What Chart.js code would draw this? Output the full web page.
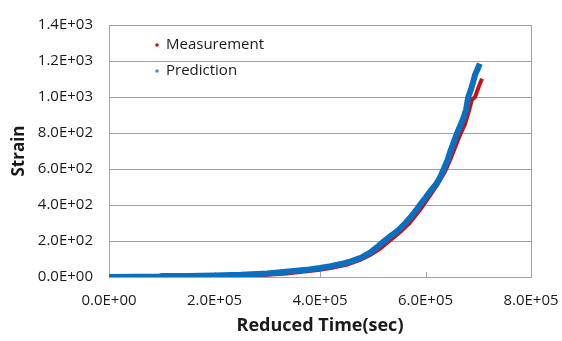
<!DOCTYPE html>
<html>
<head>
<meta charset="utf-8">
<script src="https://cdn.jsdelivr.net/npm/chart.js@4.4.0/dist/chart.umd.min.js"></script>
<style>
html,body{margin:0;padding:0;background:#fff;}
canvas{display:block;}
</style>
</head>
<body>
<canvas id="c" width="562" height="341"></canvas>
<script>
const seriesNames = ['Measurement', 'Prediction'];

const measTime = [0, 100000, 150000, 200000, 260000, 300000, 337000, 375000, 400000, 420000, 450000, 476000, 495000, 514000, 533000, 552000, 570000, 590000, 609000, 623000, 637000, 648000, 659000, 665000, 675000, 682000, 688000, 694000, 700000, 707000];
const measStrain = [0, 0, 1, 3, 6, 12, 20, 32, 40, 50, 68, 95, 122, 158, 205, 250, 300, 375, 455, 515, 585, 660, 742, 786, 850, 920, 985, 1000, 1050, 1102];

const predTime = [0, 50000, 95000, 100000, 150000, 200000, 250000, 300000, 325000, 350000, 380000, 400000, 420000, 440000, 460000, 480000, 495000, 510000, 520000, 533000, 545000, 552000, 562000, 572000, 582000, 590000, 600000, 610000, 620000, 628000, 636000, 642000, 647000, 653000, 660000, 666000, 672000, 677000, 681000, 686000, 690000, 694000, 698000, 703000];
const predStrain = [0, 1, 2, 5, 6, 8, 12, 20, 26, 33, 42, 50, 60, 72, 88, 110, 135, 170, 195, 226, 252, 270, 300, 333, 370, 403, 440, 480, 515, 555, 610, 650, 697, 745, 800, 840, 884, 930, 1000, 1040, 1080, 1124, 1150, 1186];

const xTickLabels = ['0.0E+00', '2.0E+05', '4.0E+05', '6.0E+05', '8.0E+05'];
const yTickLabels = ['0.0E+00', '2.0E+02', '4.0E+02', '6.0E+02', '8.0E+02', '1.0E+03', '1.2E+03', '1.4E+03'];

const xTitle = 'Reduced Time(sec)';
const yTitle = 'Strain';

const RED = '#c8101a';
const BLUE = '#0b6fc0';
const GRID = '#a3a3a3';
const TEXT = '#1a1a1a';
const FONT = '"Open Sans"';

function pts(xs, ys) { return xs.map((x, i) => ({x: x, y: ys[i]})); }

const frame = {
  id: 'frame',
  beforeDatasetsDraw(chart) {
    const {ctx, chartArea: a} = chart;
    const xs = chart.scales.x;
    ctx.save();
    ctx.strokeStyle = GRID;
    ctx.lineWidth = 1;
    xs.ticks.forEach(t => {
      const px = Math.round(xs.getPixelForValue(t.value)) + 0.5;
      ctx.beginPath();
      ctx.moveTo(px, a.bottom);
      ctx.lineTo(px, a.bottom - 5);
      ctx.stroke();
    });
    ctx.strokeRect(Math.round(a.left) + 0.5, Math.round(a.top) + 0.5, Math.round(a.right - a.left), Math.round(a.bottom - a.top));
    ctx.restore();
  }
};

const textPlugin = {
  id: 'texts',
  afterDraw(chart) {
    const ctx = chart.ctx;
    const a = chart.chartArea;
    const items = [
      {label: seriesNames[0], color: RED, y: 45},
      {label: seriesNames[1], color: '#4a90d0', y: 71}
    ];
    ctx.save();
    ctx.font = '15px ' + FONT;
    ctx.textBaseline = 'middle';
    items.forEach(it => {
      ctx.fillStyle = it.color;
      ctx.beginPath();
      ctx.arc(157, it.y, 1.8, 0, Math.PI * 2);
      ctx.fill();
      ctx.fillStyle = TEXT;
      ctx.textAlign = 'left';
      ctx.fillText(it.label, 166, it.y);
    });
    // y axis title
    ctx.translate(19, (a.top + a.bottom) / 2);
    ctx.rotate(-Math.PI / 2);
    ctx.font = 'bold 17px ' + FONT;
    ctx.textAlign = 'center';
    ctx.fillStyle = TEXT;
    ctx.fillText(yTitle, 0, 0);
    ctx.restore();
  }
};

new Chart(document.getElementById('c'), {
  type: 'scatter',
  data: {
    datasets: [
      {
        label: seriesNames[0],
        data: pts(measTime, measStrain),
        showLine: true,
        borderColor: RED,
        backgroundColor: RED,
        borderWidth: 4,
        pointRadius: 0,
        pointHoverRadius: 0,
        order: 1
      },
      {
        label: seriesNames[1],
        data: pts(predTime, predStrain),
        showLine: true,
        borderColor: BLUE,
        backgroundColor: BLUE,
        borderWidth: 6,
        pointRadius: 0,
        pointHoverRadius: 0,
        order: 0
      }
    ]
  },
  options: {
    responsive: false,
    animation: false,
    devicePixelRatio: 1,
    layout: {padding: {top: 15, right: 31, left: 0, bottom: 0}},
    plugins: {legend: {display: false}, tooltip: {enabled: false}},
    scales: {
      x: {
        type: 'linear',
        min: 0, max: 800000,
        afterFit(s) { s.height = 64; s.paddingRight = 0; s.paddingLeft = 0; },
        ticks: {
          stepSize: 200000,
          padding: 15,
          color: TEXT,
          font: {family: FONT, size: 15},
          maxRotation: 0,
          callback: (v, i) => xTickLabels[i]
        },
        grid: {display: false, drawTicks: false},
        border: {display: true, color: GRID},
        title: {
          display: true, text: xTitle, color: TEXT,
          font: {family: FONT, size: 18, weight: 'bold'},
          padding: {top: 8, bottom: 4}
        }
      },
      y: {
        type: 'linear',
        min: 0, max: 1400,
        afterFit(s) { s.width = 109; },
        ticks: {
          stepSize: 200,
          padding: 16,
          color: TEXT,
          font: {family: FONT, size: 15},
          callback: (v, i) => yTickLabels[i]
        },
        grid: {color: GRID, drawTicks: false},
        border: {display: true, color: GRID},
        title: {display: false, text: yTitle}
      }
    }
  },
  plugins: [frame, textPlugin]
});
</script>
</body>
</html>
